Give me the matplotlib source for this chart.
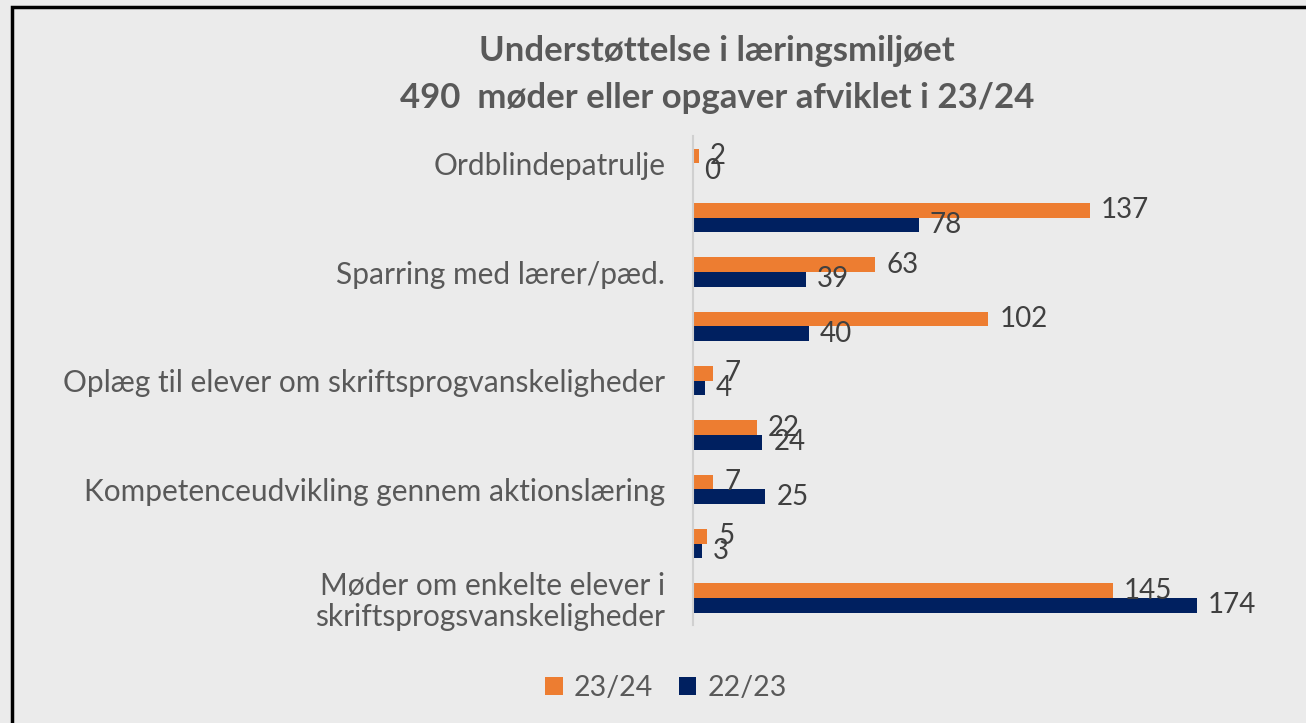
import numpy as np
import matplotlib.pyplot as plt
from matplotlib.patches import Rectangle

categories = [
    "Ordblindepatrulje",
    "",
    "Sparring med lærer/pæd.",
    "",
    "Oplæg til elever om skriftsprogvanskeligheder",
    "",
    "Kompetenceudvikling gennem aktionslæring",
    "",
    "Møder om enkelte elever i\nskriftsprogsvanskeligheder",
]
vals_2324 = [2, 137, 63, 102, 7, 22, 7, 5, 145]
vals_2223 = [0, 78, 39, 40, 4, 24, 25, 3, 174]
series_names = ["23/24", "22/23"]

bg = "#EBEBEB"
orange = "#ED7D31"
navy = "#002060"
txt = "#404040"

plt.rcParams['font.family'] = ['Lato', 'DejaVu Sans']

fig = plt.figure(figsize=(13.06, 7.23), dpi=100, facecolor=bg)
ax = fig.add_axes([0.5306, 0.1355, 0.4435, 0.676])
ax.set_facecolor(bg)

y = np.arange(len(categories))
h = 0.27
b1 = ax.barh(y - h / 2, vals_2324, height=h, color=orange, label=series_names[0])
b2 = ax.barh(y + h / 2, vals_2223, height=h, color=navy, label=series_names[1])
ax.bar_label(b1, padding=8, fontsize=20, color=txt)
ax.bar_label(b2, padding=8, fontsize=20, color=txt)

ax.set_xlim(0, 200)
ax.set_ylim(len(categories) - 0.5, -0.5)
ax.set_yticks(y)
ax.set_yticklabels(categories, fontsize=21.5, color="#595959", linespacing=1.1)
ax.tick_params(axis='y', length=0, pad=20)
ax.set_xticks([])
for s in ['top', 'right', 'bottom']:
    ax.spines[s].set_visible(False)
ax.spines['left'].set_color("#D0D0D0")
ax.spines['left'].set_linewidth(1.5)

fig.text(0.549, 0.93, "Understøttelse i læringsmiljøet", ha='center', va='center',
         fontsize=25, fontweight='bold', color="#595959")
fig.text(0.549, 0.865, "490  møder eller opgaver afviklet i 23/24", ha='center', va='center',
         fontsize=25, fontweight='bold', color="#595959")

fig.legend(loc='center', bbox_to_anchor=(0.51, 0.048), ncol=2, frameon=False,
           fontsize=20.5, labelcolor="#595959", handlelength=0.6, handleheight=0.6,
           handletextpad=0.4, columnspacing=0.9)

fig.patches.append(Rectangle((12 / 1306, -0.02), 1.05, 1.02 - 7 / 723, transform=fig.transFigure,
                             fill=False, edgecolor="black", linewidth=2.5))

fig.savefig("out.png", dpi=100, facecolor=bg)
